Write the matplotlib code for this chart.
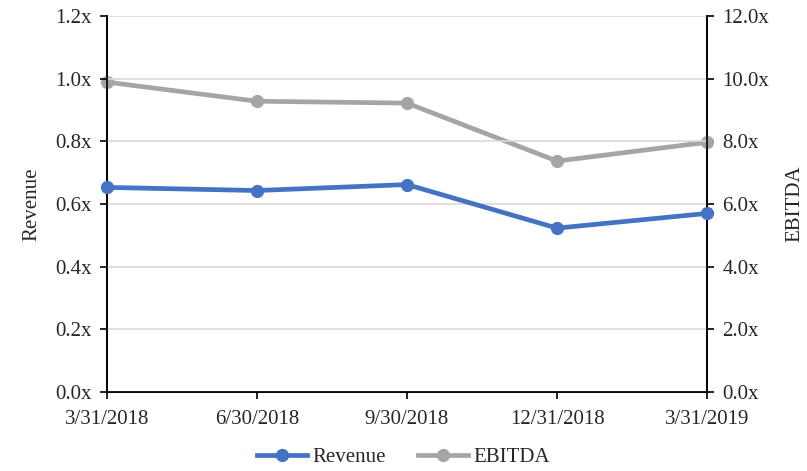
import matplotlib
matplotlib.use('Agg')
import matplotlib.pyplot as plt
from matplotlib.ticker import FuncFormatter

dates = ['3/31/2018', '6/30/2018', '9/30/2018', '12/31/2018', '3/31/2019']
revenue = [0.653, 0.643, 0.662, 0.523, 0.570]
ebitda = [9.89, 9.28, 9.22, 7.37, 7.97]

plt.rcParams['font.family'] = ['Liberation Serif', 'DejaVu Serif']
plt.rcParams['font.size'] = 15

blue = '#4472C4'
grey = '#A5A5A5'
txt = '#262626'

fig = plt.figure(figsize=(8.07, 4.71), dpi=100)
ax = fig.add_axes([107 / 807, 79 / 471, 600 / 807, 376 / 471])
ax2 = ax.twinx()

x = list(range(len(dates)))
l1, = ax.plot(x, revenue, color=blue, lw=3.4, marker='o', ms=8.5, label='Revenue',
              zorder=3, clip_on=False)
l2, = ax2.plot(x, ebitda, color=grey, lw=3.4, marker='o', ms=8.5, label='EBITDA',
               zorder=3, clip_on=False)

ax.set_xlim(0, len(dates) - 1)
ax.set_ylim(0, 1.2)
ax2.set_ylim(0, 12)
ax.set_yticks([0, 0.2, 0.4, 0.6, 0.8, 1.0, 1.2])
ax2.set_yticks([0, 2, 4, 6, 8, 10, 12])
ax.yaxis.set_major_formatter(FuncFormatter(lambda v, p: '%.1fx' % v))
ax2.yaxis.set_major_formatter(FuncFormatter(lambda v, p: '%.1fx' % v))
ax.set_xticks(x)
ax.set_xticklabels(dates)

ax.grid(axis='y', color='#D9D9D9', lw=1.2, zorder=0)
ax.set_axisbelow(True)
for a in (ax, ax2):
    a.spines['top'].set_visible(False)
    for s in ('left', 'right', 'bottom'):
        a.spines[s].set_color('black')
        a.spines[s].set_linewidth(1.2)
    a.tick_params(axis='both', length=5, width=1.2, color='black', labelcolor=txt, pad=6)
ax.tick_params(axis='x', pad=8)

ax.set_ylabel('Revenue', labelpad=10, color=txt)
ax2.set_ylabel('EBITDA', labelpad=12, color=txt)

# ebitda line sits behind revenue
ax2.set_zorder(ax.get_zorder() - 1)
ax.patch.set_visible(False)

fig.legend(handles=[l1, l2], loc='lower center', bbox_to_anchor=(0.5, -0.032),
           ncol=2, frameon=False, handlelength=2.4, columnspacing=1.5, handletextpad=0.3,
           labelcolor=txt)

fig.savefig('out.png', dpi=100)
